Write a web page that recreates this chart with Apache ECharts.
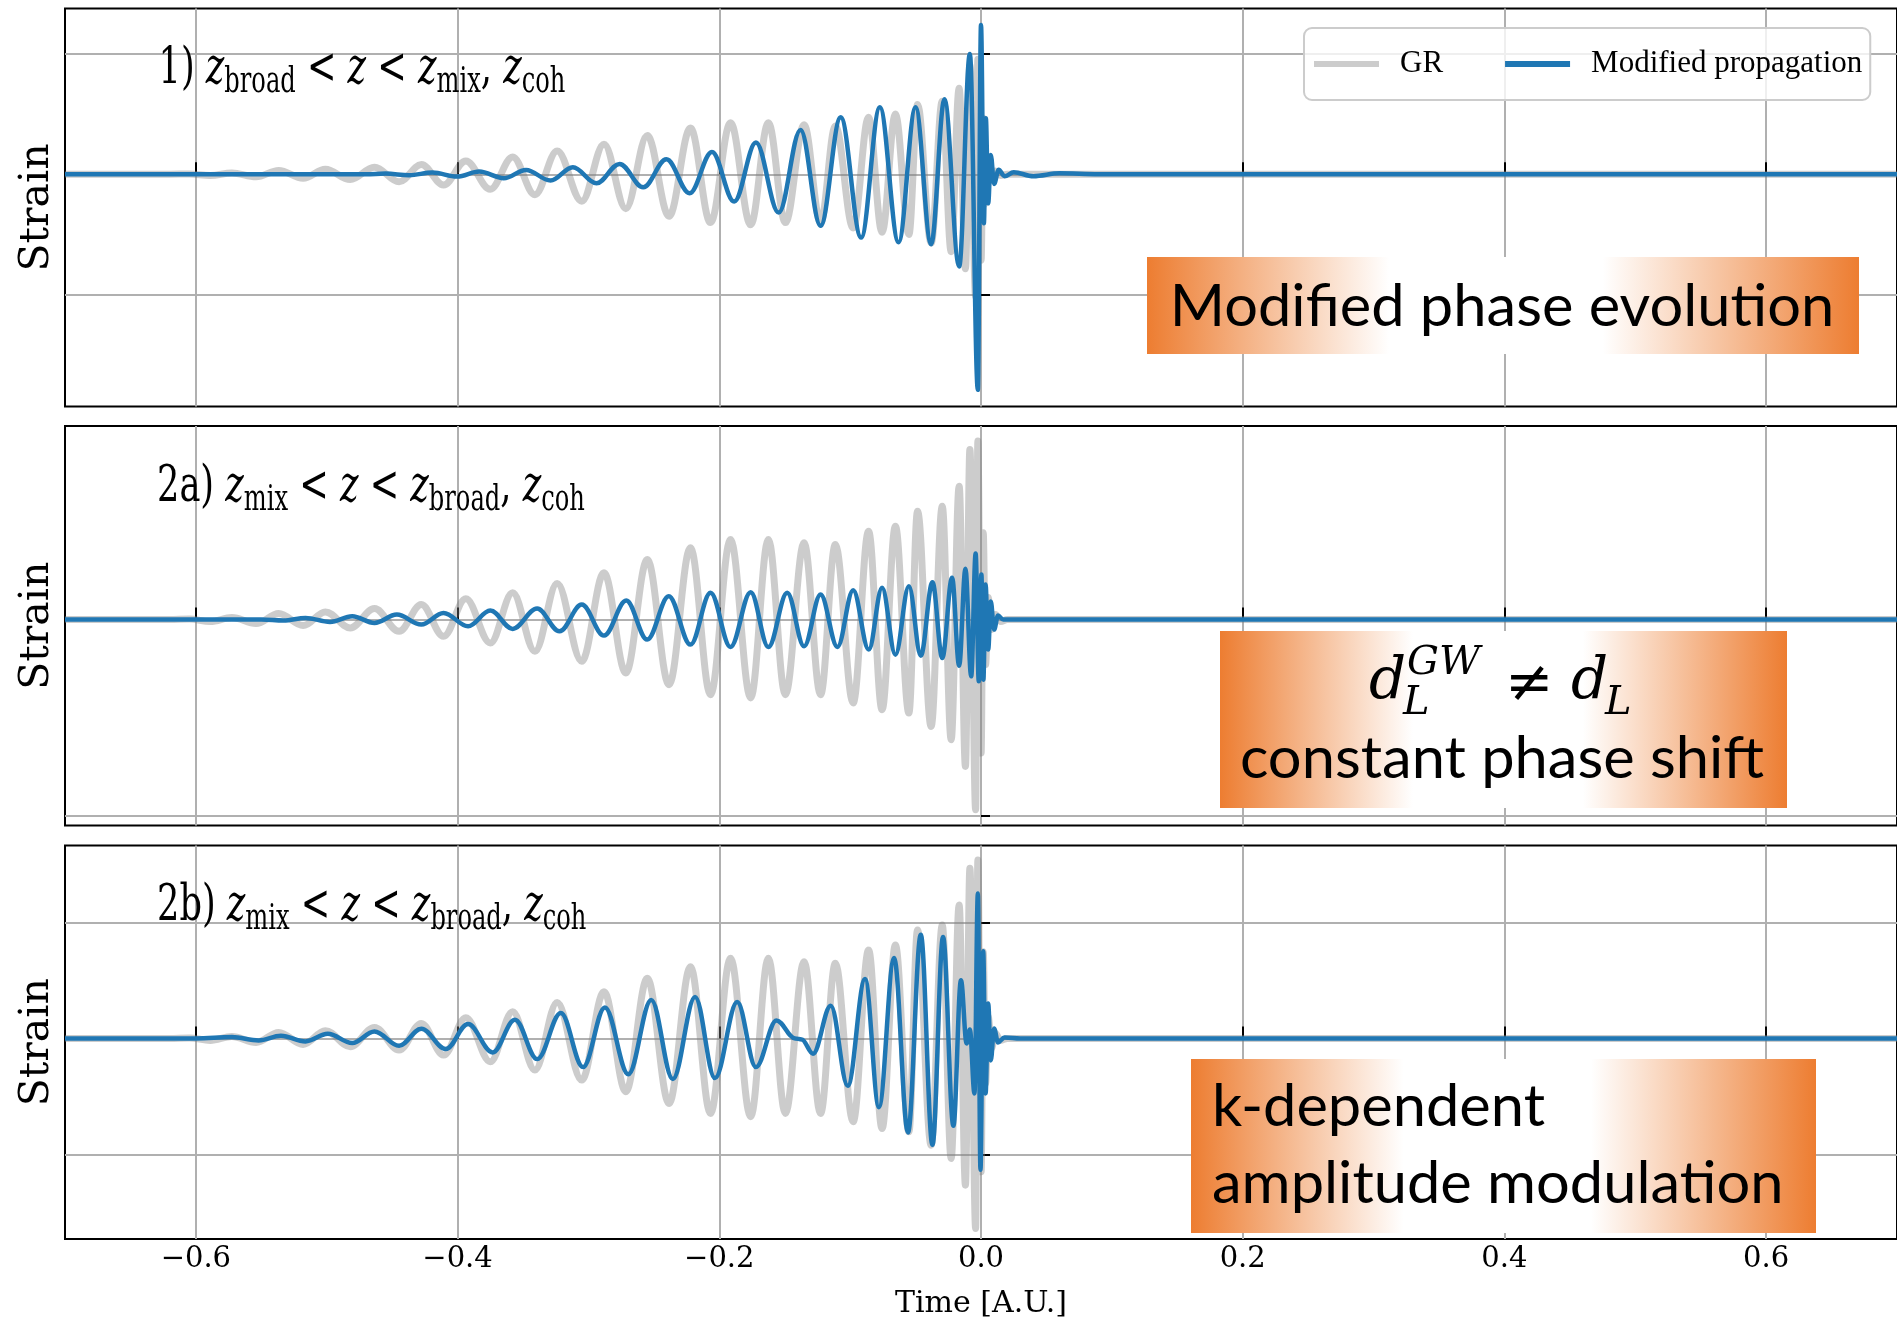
<!DOCTYPE html>
<html>
<head>
<meta charset="utf-8">
<script src="https://cdn.jsdelivr.net/npm/echarts@6/dist/echarts.min.js"></script>
<style>
  html, body { margin: 0; padding: 0; background: #ffffff; }
  #chart { width: 1897px; height: 1321px; }
</style>
</head>
<body>
<div id="chart"></div>
<script>
// Time axis ticks [A.U.]
const TIME_TICKS = [-0.6, -0.4, -0.2, 0.0, 0.2, 0.4, 0.6];

// GR chirp (same waveform in every panel): turning points, time and strain
const GR_TIME = [-0.7, -0.62, -0.605, -0.589, -0.5725, -0.554, -0.5367, -0.518, -0.501, -0.482,
  -0.4635, -0.4447, -0.4277, -0.4107, -0.3937, -0.375, -0.3579, -0.3409, -0.3239, -0.3051,
  -0.2881, -0.2714, -0.255, -0.2384, -0.222, -0.2067, -0.1914, -0.176, -0.1625, -0.1495,
  -0.1352, -0.1226, -0.1113, -0.0977, -0.0859, -0.0756, -0.0654, -0.0551, -0.0485, -0.0381,
  -0.0296, -0.0228, -0.0167, -0.0119, -0.0085, -0.0041, -0.0024, 0.0001, 0.0017, 0.0035,
  0.0055, 0.008, 0.011, 0.015, 0.02, 0.7];
const GR_STRAIN = [0, 0, 0.005, -0.02, 0.02, -0.04, 0.06, -0.06, 0.077, -0.083,
  0.11, -0.117, 0.15, -0.167, 0.207, -0.233, 0.267, -0.317, 0.36, -0.417,
  0.467, -0.533, 0.6, -0.65, 0.717, -0.75, 0.8, -0.783, 0.8, -0.75,
  0.767, -0.75, 0.75, -0.833, 0.883, -0.9, 0.933, -0.933, 1.083, -1.067,
  1.133, -1.2, 1.333, -1.467, 1.70, -1.9, 1.783, -1.333, 0.867, -0.45,
  0.22, -0.1, 0.05, -0.02, 0, 0];

// Panel 1) modified phase evolution
const P1_TIME = [-0.7, -0.47, -0.455, -0.437, -0.4192, -0.4004, -0.3834, -0.3647, -0.3477, -0.329,
  -0.3119, -0.2939, -0.2762, -0.2581, -0.2404, -0.2227, -0.2056, -0.1886, -0.172, -0.1546,
  -0.1379, -0.1226, -0.1072, -0.0916, -0.0773, -0.063, -0.05, -0.0381, -0.0279, -0.0167,
  -0.0085, -0.0024, 0.0, 0.0022, 0.0037, 0.0055, 0.0075, 0.01, 0.0135, 0.018,
  0.025, 0.04, 0.06, 0.09, 0.7];
const P1_STRAIN = [0, 0, 0.01, -0.015, 0.026, -0.036, 0.041, -0.062, 0.067, -0.098,
  0.109, -0.14, 0.16, -0.202, 0.233, -0.295, 0.346, -0.424, 0.491, -0.594,
  0.687, -0.8, 0.884, -0.982, 1.039, -1.054, 1.039, -1.085, 1.163, -1.43,
  1.866, -3.344, 2.315, -0.76, 0.87, -0.45, 0.3, -0.15, 0.07, -0.03,
  0.03, -0.03, 0.015, 0, 0];

// Panel 2a) constant phase shift
const P2_TIME = [-0.7, -0.55, -0.533, -0.5162, -0.4975, -0.4805, -0.4635, -0.4464, -0.4277, -0.4107,
  -0.392, -0.375, -0.3579, -0.3392, -0.3221, -0.3051, -0.2881, -0.2711, -0.2551, -0.2386,
  -0.222, -0.2067, -0.1914, -0.176, -0.1625, -0.1481, -0.1352, -0.1226, -0.1097, -0.0977,
  -0.0858, -0.0756, -0.0654, -0.0551, -0.046, -0.0371, -0.0296, -0.0221, -0.0167, -0.0119,
  -0.0075, -0.0041, -0.0017, 0.0003, 0.0018, 0.0035, 0.0055, 0.0075, 0.01, 0.013,
  0.017, 0.7];
const P2_STRAIN = [0, 0, -0.01, 0.017, -0.023, 0.033, -0.033, 0.05, -0.05, 0.067,
  -0.067, 0.09, -0.093, 0.11, -0.117, 0.15, -0.16, 0.19, -0.2, 0.233,
  -0.25, 0.267, -0.273, 0.273, -0.273, 0.267, -0.267, 0.25, -0.273, 0.293,
  -0.3, 0.317, -0.35, 0.333, -0.36, 0.373, -0.383, 0.417, -0.46, 0.507,
  -0.567, 0.66, -0.617, 0.45, -0.6, 0.35, -0.3, 0.18, -0.1, 0.04,
  0, 0];

// Panel 2b) k-dependent amplitude modulation
const P3_TIME = [-0.7, -0.6, -0.5724, -0.552, -0.535, -0.5162, -0.4992, -0.4805, -0.4635, -0.4447,
  -0.4277, -0.409, -0.392, -0.3732, -0.3562, -0.3391, -0.3211, -0.3041, -0.2874, -0.2695,
  -0.252, -0.2355, -0.2185, -0.2033, -0.1863, -0.172, -0.1563, -0.142, -0.137, -0.1284,
  -0.1148, -0.1018, -0.0886, -0.078, -0.0664, -0.0558, -0.046, -0.0371, -0.029, -0.0211,
  -0.0153, -0.011, -0.0085, -0.005, -0.0024, -0.0004, 0.0017, 0.0035, 0.0055, 0.0075,
  0.01, 0.013, 0.018, 0.03, 0.7];
const P3_STRAIN = [0, 0, 0.013, -0.02, 0.027, -0.03, 0.047, -0.047, 0.07, -0.073,
  0.097, -0.107, 0.143, -0.14, 0.187, -0.207, 0.253, -0.287, 0.31, -0.358,
  0.385, -0.407, 0.415, -0.397, 0.363, -0.287, 0.18, 0.0, -0.01, -0.153,
  0.327, -0.473, 0.593, -0.687, 0.803, -0.94, 1.037, -1.063, 1.013, -0.873,
  0.58, -0.05, 0.09, -0.55, 1.447, -1.313, 0.87, -0.55, 0.35, -0.22,
  0.1, -0.04, 0.01, 0, 0];

// Strain axis ticks and ranges per panel
const P1_YTICKS = [-1.868, 0, 1.868];
const P2_YTICKS = [-1.957, 0];
const P3_YTICKS = [-1.16, 0, 1.16];
const Y_RANGES = [[-3.602, 2.571], [-2.057, 1.934], [-2.005, 1.928]];

const SERIES_NAMES = ['GR', 'Modified propagation'];
const PANEL_LABELS = [
  ['1)', 'broad', 'mix', 'coh'],
  ['2a)', 'mix', 'broad', 'coh'],
  ['2b)', 'mix', 'broad', 'coh']
];

const GR_COLOR = 'rgba(128,128,128,0.4)';
const MOD_COLOR = '#1f77b4';
const GRID_COLOR = '#b0b0b0';
const SERIF = 'DejaVu Serif';

function pairs(t, v) { return t.map((x, i) => [x, v[i]]); }
function fmtTime(v) {
  const s = Math.abs(v).toFixed(1);
  return (v < -1e-9 ? '\u2212' : '') + s;
}

const grids = [
  { left: 65, top: 8.5, width: 1835, height: 398 },
  { left: 65, top: 426, width: 1835, height: 399.5 },
  { left: 65, top: 845.5, width: 1835, height: 393.5 }
].map(g => Object.assign(g, {
  show: true, borderColor: '#000', borderWidth: 2, backgroundColor: 'transparent'
}));

const xAxes = [0, 1, 2].map(i => ({
  type: 'value', gridIndex: i, min: -0.7, max: 0.7,
  axisLine: { show: false },
  axisTick: { show: true, inside: true, length: 12, customValues: TIME_TICKS,
    lineStyle: { color: '#000', width: 2 } },
  axisLabel: { show: i === 2, customValues: TIME_TICKS, formatter: fmtTime,
    fontFamily: SERIF, fontSize: 29, color: '#000', margin: 6 },
  splitLine: { show: true, lineStyle: { color: GRID_COLOR, width: 2 } },
  name: i === 2 ? 'Time [A.U.]' : '',
  nameLocation: 'middle', nameGap: 50,
  nameTextStyle: { fontFamily: SERIF, fontSize: 30, color: '#000' }
}));

const yTicks = [P1_YTICKS, P2_YTICKS, P3_YTICKS];
const yAxes = [0, 1, 2].map(i => ({
  type: 'value', gridIndex: i, min: Y_RANGES[i][0], max: Y_RANGES[i][1],
  axisLine: { show: false },
  axisTick: { show: true, inside: true, length: 9, customValues: yTicks[i],
    lineStyle: { color: '#000', width: 2 } },
  axisLabel: { show: false, customValues: yTicks[i] },
  splitLine: { show: true, lineStyle: { color: GRID_COLOR, width: 2 } },
  name: 'Strain', nameLocation: 'middle', nameGap: 7,
  nameTextStyle: { fontFamily: SERIF, fontSize: 41, color: '#000' }
}));

const modData = [pairs(P1_TIME, P1_STRAIN), pairs(P2_TIME, P2_STRAIN), pairs(P3_TIME, P3_STRAIN)];
const grData = pairs(GR_TIME, GR_STRAIN);

const lineBase = {
  type: 'line', showSymbol: false, symbol: 'none',
  smooth: 0.36, smoothMonotone: 'x', animation: false, clip: true
};
const series = [];
[0, 1, 2].forEach(i => {
  series.push(Object.assign({}, lineBase, {
    name: SERIES_NAMES[0], xAxisIndex: i, yAxisIndex: i, z: 2,
    data: grData, color: GR_COLOR,
    lineStyle: { color: GR_COLOR, width: 7 }
  }));
  series.push(Object.assign({}, lineBase, {
    name: SERIES_NAMES[1], xAxisIndex: i, yAxisIndex: i, z: 3,
    data: modData[i], color: MOD_COLOR,
    lineStyle: { color: MOD_COLOR, width: 4.5 }
  }));
});

// Panel regime labels: "N) z_a < z < z_b, z_c"
const labelRich = {
  n: { fontFamily: SERIF, fontSize: 51, lineHeight: 51, padding: [0, 0, 5, 0], verticalAlign: 'bottom', fill: '#000' },
  z: { fontFamily: SERIF, fontStyle: 'italic', fontSize: 51, lineHeight: 51, padding: [0, 0, 5, 0], verticalAlign: 'bottom', fill: '#000' },
  s: { fontFamily: SERIF, fontSize: 35, lineHeight: 35, verticalAlign: 'bottom', fill: '#000' }
};
const labelPos = [[158.5, 100], [157, 518], [157, 937.6]];
const panelLabels = PANEL_LABELS.map((p, i) => ({
  type: 'text', x: labelPos[i][0], y: labelPos[i][1], scaleX: 0.69, z: 30,
  style: {
    text: '{n|' + p[0] + ' }{z|z}{s|' + p[1] + '}{n| < }{z|z}{n| < }{z|z}{s|' + p[2] + '}{n|, }{z|z}{s|' + p[3] + '}',
    rich: labelRich, align: 'left', verticalAlign: 'bottom'
  }
}));

// Orange call-out boxes
function boxFill() {
  return {
    type: 'linear', x: 0, y: 0, x2: 1, y2: 0,
    colorStops: [
      { offset: 0, color: '#ED7D31' },
      { offset: 0.34, color: '#ffffff' },
      { offset: 0.64, color: '#ffffff' },
      { offset: 1, color: '#ED7D31' }
    ]
  };
}
const SANS = 'Lato';
function sansText(str, x, y, align) {
  return { type: 'text', x: x, y: y, z: 31, scaleX: 1.01,
    style: { text: str, fontFamily: SANS, fontSize: 59, fill: '#000', align: align, verticalAlign: 'middle' } };
}
function mathText(str, x, y, size, italic) {
  return { type: 'text', x: x, y: y, z: 31,
    style: { text: str, fontFamily: SERIF, fontStyle: italic ? 'italic' : 'normal', fontSize: size,
      fill: '#000', align: 'left', verticalAlign: 'middle' } };
}

const graphics = panelLabels.concat([
  { type: 'rect', z: 25, shape: { x: 1147, y: 257, width: 712, height: 97 }, style: { fill: boxFill() } },
  sansText('Modified phase evolution', 1502, 307, 'center'),

  { type: 'rect', z: 25, shape: { x: 1220, y: 631, width: 567, height: 177 }, style: { fill: boxFill() } },
  mathText('d', 1369, 683, 58, true),
  mathText('GW', 1407, 664, 40, true),
  mathText('L', 1403, 704, 40, true),
  mathText('\u2260', 1505, 686, 58, false),
  mathText('d', 1571, 683, 58, true),
  mathText('L', 1605, 704, 40, true),
  sansText('constant phase shift', 1502, 759, 'center'),

  { type: 'rect', z: 25, shape: { x: 1191, y: 1059, width: 625, height: 174 }, style: { fill: boxFill() } },
  sansText('k-dependent', 1212, 1107, 'left'),
  sansText('amplitude modulation', 1212, 1184, 'left')
]);

const chart = echarts.init(document.getElementById('chart'), null, { renderer: 'canvas' });
chart.setOption({
  animation: false,
  backgroundColor: '#ffffff',
  grid: grids,
  xAxis: xAxes,
  yAxis: yAxes,
  legend: {
    data: SERIES_NAMES, left: 1304, top: 28, orient: 'horizontal',
    icon: 'rect', itemWidth: 65, itemHeight: 6, itemGap: 62,
    padding: [16, 8, 16, 10],
    backgroundColor: 'rgba(255,255,255,0.8)', borderColor: '#cccccc', borderWidth: 2, borderRadius: 8,
    textStyle: { fontFamily: 'Liberation Serif', fontSize: 31, color: '#000', padding: [0, 0, 0, 16], lineHeight: 40 }
  },
  series: series,
  graphic: graphics
});
</script>
</body>
</html>
